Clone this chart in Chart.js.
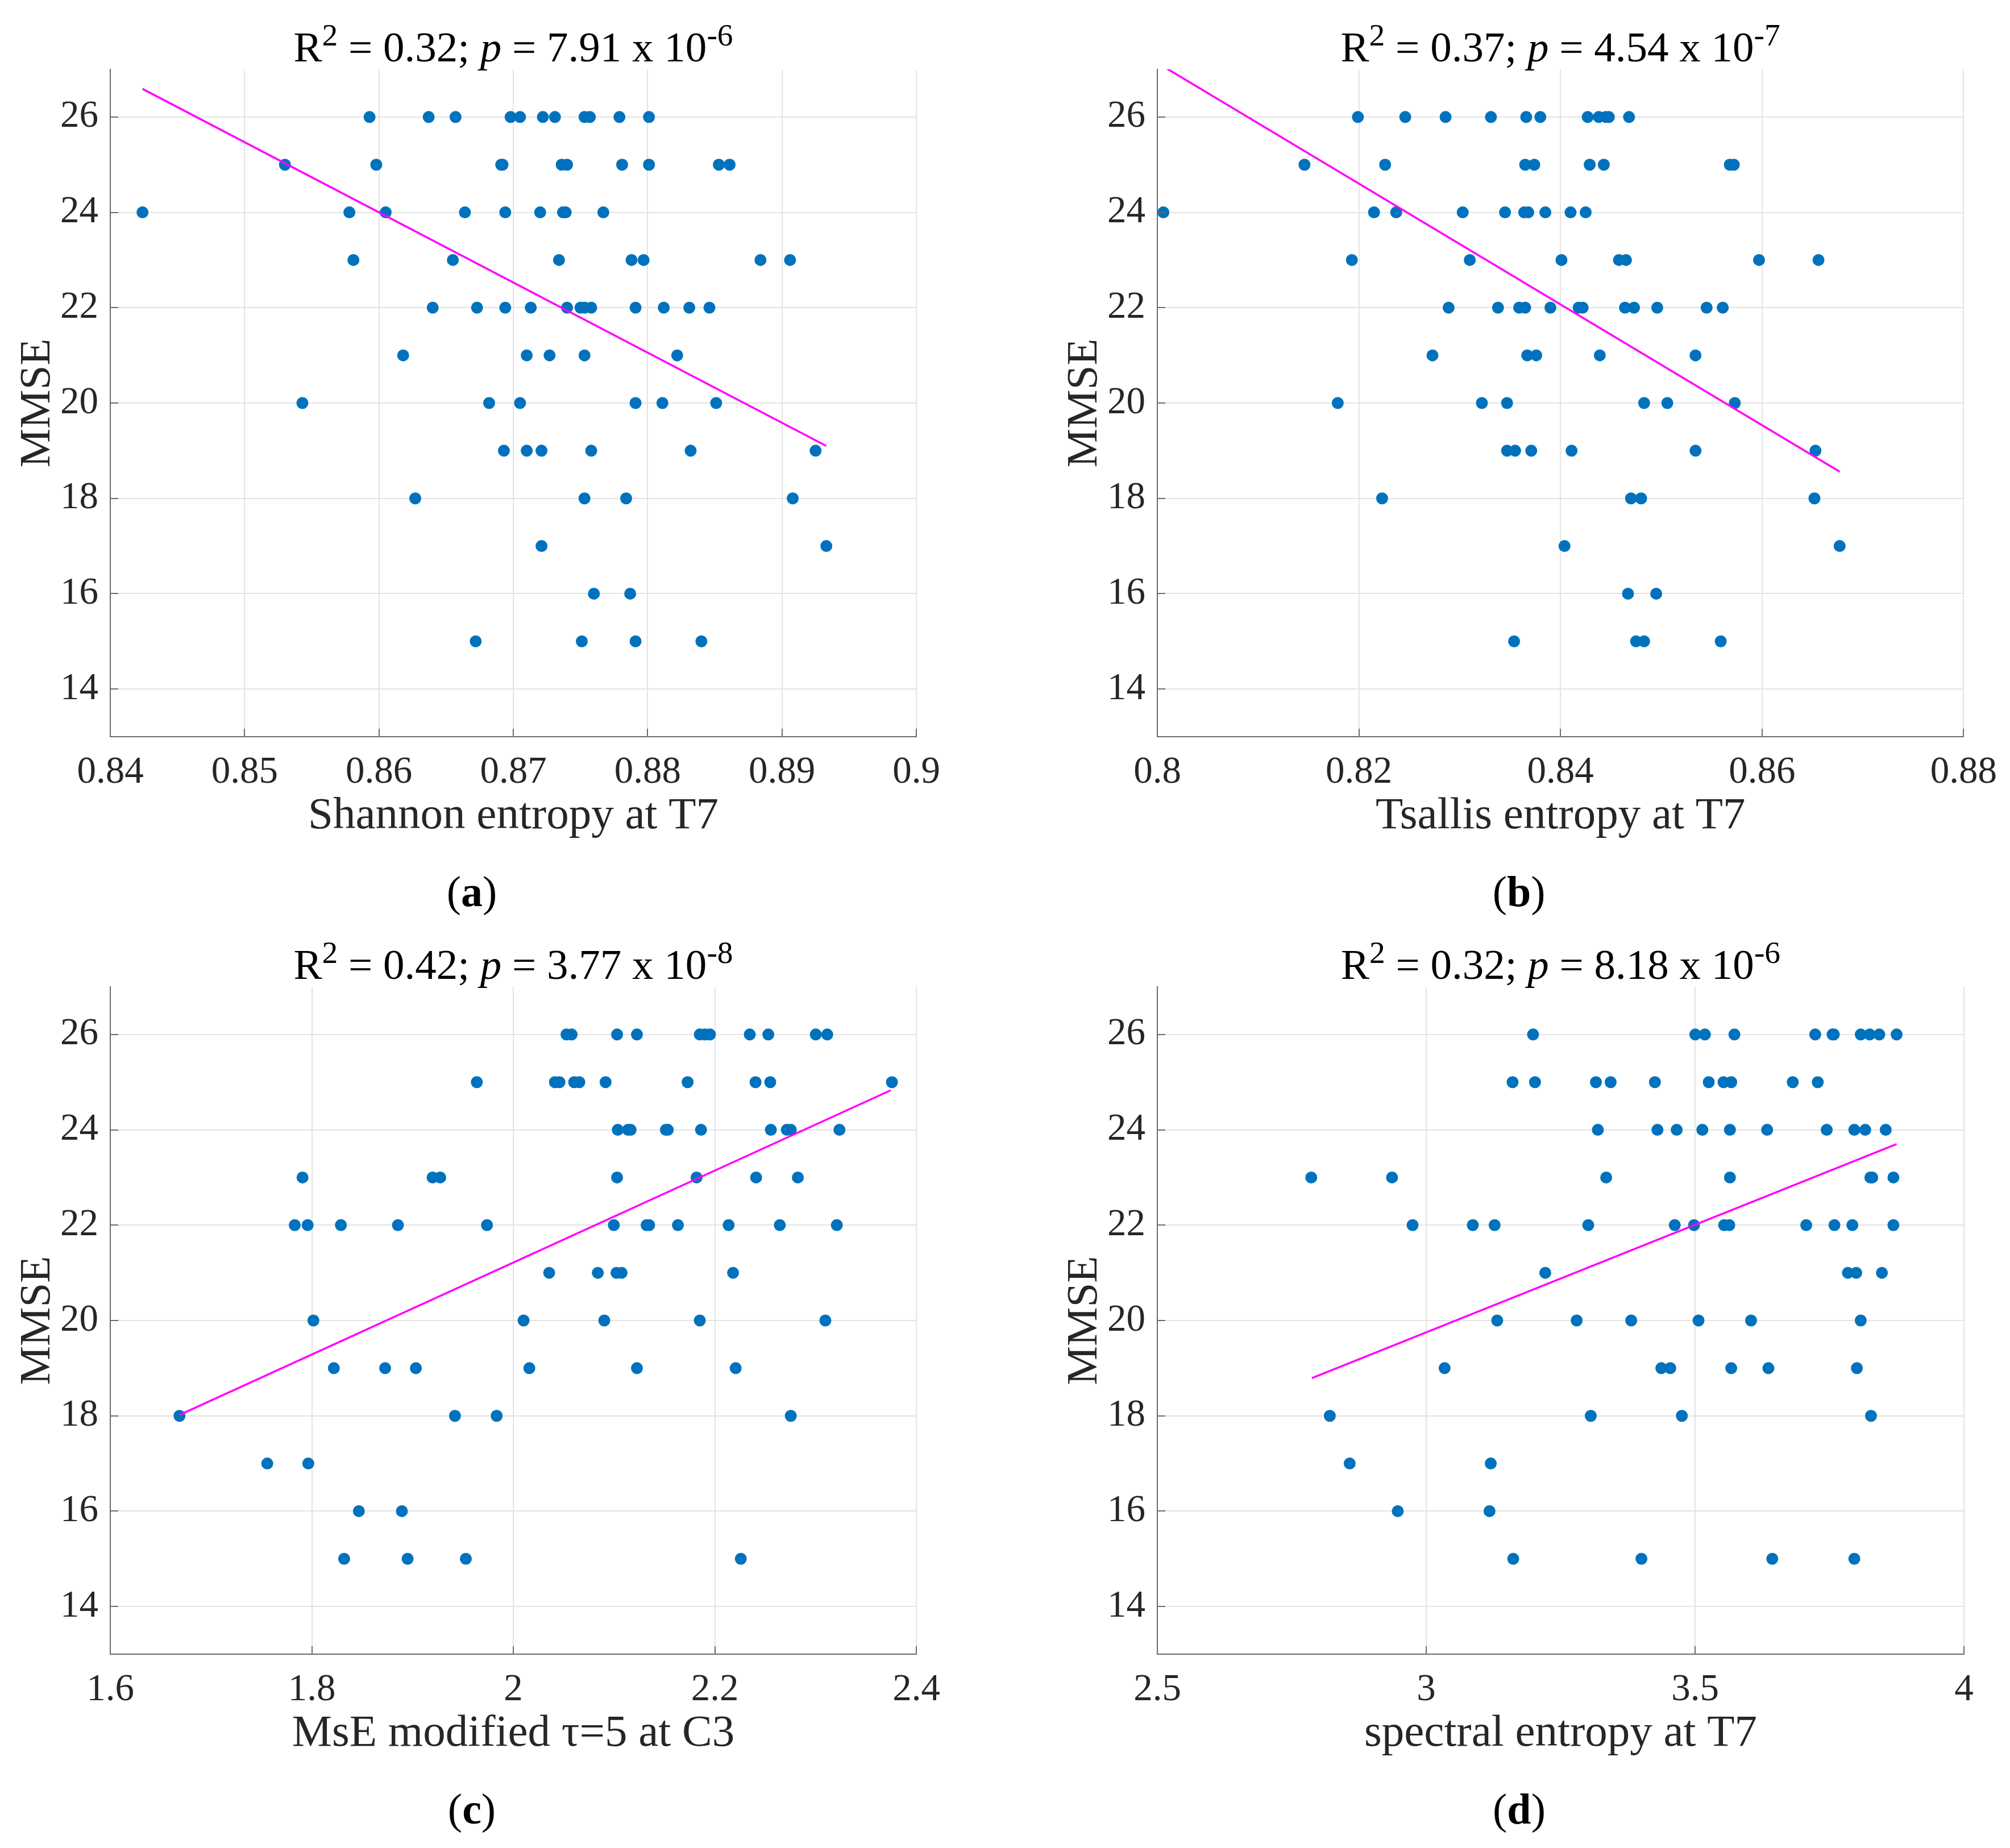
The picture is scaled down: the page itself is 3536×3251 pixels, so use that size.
<!DOCTYPE html>
<html>
<head>
<meta charset="utf-8">
<script src="https://cdn.jsdelivr.net/npm/chart.js@4.4.1/dist/chart.umd.min.js"></script>
<style>
html, body { margin: 0; padding: 0; background: #fff; }
#page { position: relative; width: 3536px; height: 3251px; overflow: hidden; font-family: "Liberation Serif", serif; color: #000; }
#page canvas { position: absolute; }
.ttl { position: absolute; width: 1400px; text-align: center; font-size: 75px; line-height: 1; white-space: nowrap; }
.ttl sup { font-size: 0.74em; vertical-align: 0.5em; line-height: 0; }
.lbl { position: absolute; width: 300px; text-align: center; font-size: 76px; line-height: 1; }
</style>
</head>
<body>
<div id="page"></div>
<script>
// MMSE score of each row of points (y value)
var mmseLevels = [26, 25, 24, 23, 22, 21, 20, 19, 18, 17, 16, 15];
var yTicks = [14, 16, 18, 20, 22, 24, 26];
var yRange = [13, 27];

// x values per MMSE level
var shannonT7 = [
  [0.8593, 0.8637, 0.8657, 0.8698, 0.8705, 0.8722, 0.8731, 0.8753, 0.8757, 0.8779, 0.8801],
  [0.8530, 0.8598, 0.8691, 0.8692, 0.8736, 0.8740, 0.8781, 0.8801, 0.8853, 0.8861],
  [0.8424, 0.8578, 0.8605, 0.8664, 0.8694, 0.8720, 0.8737, 0.8739, 0.8767],
  [0.8581, 0.8655, 0.8734, 0.8788, 0.8797, 0.8884, 0.8906],
  [0.8640, 0.8673, 0.8694, 0.8713, 0.8740, 0.8750, 0.8753, 0.8758, 0.8791, 0.8812, 0.8831, 0.8846],
  [0.8618, 0.8710, 0.8727, 0.8753, 0.8822],
  [0.8543, 0.8682, 0.8705, 0.8791, 0.8811, 0.8851],
  [0.8693, 0.8710, 0.8721, 0.8758, 0.8832, 0.8925],
  [0.8627, 0.8753, 0.8784, 0.8908],
  [0.8721, 0.8933],
  [0.8760, 0.8787],
  [0.8672, 0.8751, 0.8791, 0.8840]
];
var tsallisT7 = [
  [0.8199, 0.8246, 0.8286, 0.8331, 0.8366, 0.8380, 0.8427, 0.8438, 0.8445, 0.8448, 0.8468],
  [0.8146, 0.8226, 0.8365, 0.8374, 0.8429, 0.8443, 0.8568, 0.8572],
  [0.8006, 0.8215, 0.8237, 0.8303, 0.8345, 0.8364, 0.8368, 0.8385, 0.8410, 0.8425],
  [0.8193, 0.8310, 0.8401, 0.8458, 0.8465, 0.8597, 0.8656],
  [0.8289, 0.8338, 0.8359, 0.8365, 0.8390, 0.8418, 0.8422, 0.8464, 0.8473, 0.8496, 0.8545, 0.8561],
  [0.8273, 0.8367, 0.8376, 0.8439, 0.8534],
  [0.8179, 0.8322, 0.8347, 0.8483, 0.8506, 0.8573],
  [0.8347, 0.8355, 0.8371, 0.8411, 0.8534, 0.8653],
  [0.8223, 0.8470, 0.8480, 0.8652],
  [0.8404, 0.8677],
  [0.8467, 0.8495],
  [0.8354, 0.8475, 0.8483, 0.8559]
];
var mseTau5C3 = [
  [2.0528, 2.0579, 2.1030, 2.1227, 2.1851, 2.1901, 2.1952, 2.2347, 2.2531, 2.3002, 2.3116],
  [1.9638, 2.0413, 2.0458, 2.0604, 2.0655, 2.0916, 2.1730, 2.2404, 2.2550, 2.3758],
  [2.1037, 2.1138, 2.1164, 2.1514, 2.1533, 2.1863, 2.2556, 2.2715, 2.2754, 2.3237],
  [1.7908, 1.9199, 1.9275, 2.1030, 2.1819, 2.2410, 2.2824],
  [1.7831, 1.7959, 1.8289, 1.8855, 1.9739, 2.0998, 2.1323, 2.1348, 2.1634, 2.2137, 2.2645, 2.3211],
  [2.0356, 2.0839, 2.1024, 2.1075, 2.2181],
  [1.8016, 2.0102, 2.0903, 2.1851, 2.3097],
  [1.8219, 1.8728, 1.9033, 2.0159, 2.1227, 2.2207],
  [1.6687, 1.9421, 1.9835, 2.2754],
  [1.7558, 1.7965],
  [1.8467, 1.8894],
  [1.8321, 1.8951, 1.9529, 2.2258]
];
var spectralT7 = [
  [3.1987, 3.5004, 3.5183, 3.5731, 3.7234, 3.7556, 3.7580, 3.8080, 3.8247, 3.8426, 3.8748],
  [3.1606, 3.2023, 3.3156, 3.3430, 3.4253, 3.5254, 3.5529, 3.5672, 3.6816, 3.7281],
  [3.3192, 3.4300, 3.4658, 3.5135, 3.5648, 3.6340, 3.7448, 3.7961, 3.8164, 3.8545],
  [2.7862, 2.9364, 3.3347, 3.5648, 3.8259, 3.8295, 3.8688],
  [2.9746, 3.0866, 3.1272, 3.3013, 3.4622, 3.4980, 3.5540, 3.5636, 3.7067, 3.7591, 3.7925, 3.8688],
  [3.2214, 3.7842, 3.7997, 3.8474],
  [3.1320, 3.2798, 3.3812, 3.5064, 3.6041, 3.8080],
  [3.0342, 3.4372, 3.4539, 3.5672, 3.6363, 3.8009],
  [2.8207, 3.3060, 3.4754, 3.8271],
  [2.8577, 3.1200],
  [2.9471, 3.1177],
  [3.1618, 3.4002, 3.6435, 3.7961]
];

// regression line end points
var fitShannonX = [0.8424, 0.8933], fitShannonY = [26.59, 19.10];
var fitTsallisX = [0.8006, 0.8677], fitTsallisY = [27.06, 18.56];
var fitMseX = [1.6687, 2.3746], fitMseY = [18.02, 24.83];
var fitSpectralX = [2.7874, 3.8748], fitSpectralY = [18.79, 23.70];

var xTicksA = [0.84, 0.85, 0.86, 0.87, 0.88, 0.89, 0.9];
var xTicksB = [0.8, 0.82, 0.84, 0.86, 0.88];
var xTicksC = [1.6, 1.8, 2, 2.2, 2.4];
var xTicksD = [2.5, 3, 3.5, 4];

var xLabels = ['Shannon entropy at T7', 'Tsallis entropy at T7', 'MsE modified \u03C4=5 at C3', 'spectral entropy at T7'];
var rSquared = ['0.32', '0.37', '0.42', '0.32'];
var pMantissa = ['7.91', '4.54', '3.77', '8.18'];
var pExponent = ['-6', '-7', '-8', '-6'];
var panelNames = ['a', 'b', 'c', 'd'];

var panels = [
  { xs: shannonT7, fx: fitShannonX, fy: fitShannonY, ticks: xTicksA },
  { xs: tsallisT7, fx: fitTsallisX, fy: fitTsallisY, ticks: xTicksB },
  { xs: mseTau5C3, fx: fitMseX, fy: fitMseY, ticks: xTicksC },
  { xs: spectralT7, fx: fitSpectralX, fy: fitSpectralY, ticks: xTicksD }
];

var TXT = '#262626';
var FONT = '"Liberation Serif", serif';

// MATLAB style inward tick marks on left and bottom axes
var inwardTicks = {
  id: 'inwardTicks',
  afterDraw: function (chart) {
    var ctx = chart.ctx, a = chart.chartArea;
    var xs = chart.scales.x, ys = chart.scales.y;
    ctx.save();
    ctx.strokeStyle = '#6b6b6b';
    ctx.lineWidth = 2;
    ctx.beginPath();
    ys.ticks.forEach(function (t) {
      var py = Math.round(ys.getPixelForValue(t.value));
      ctx.moveTo(a.left, py); ctx.lineTo(a.left + 14, py);
    });
    xs.ticks.forEach(function (t) {
      var px = Math.round(xs.getPixelForValue(t.value));
      ctx.moveTo(px, a.bottom); ctx.lineTo(px, a.bottom - 14);
    });
    ctx.stroke();
    ctx.restore();
  }
};

var page = document.getElementById('page');

function makePanel(i) {
  var col = i % 2, row = Math.floor(i / 2);
  var left = col * 1768, top = row * 1614;
  var yAxisW = col === 0 ? 194 : 268;
  var rightPad = col === 0 ? 156 : 81;
  var yTitlePad = col === 0 ? 21 : 95;
  var W = 1768, H = 1484;
  var p = panels[i];

  var cv = document.createElement('canvas');
  cv.width = W; cv.height = H;
  cv.style.left = left + 'px'; cv.style.top = top + 'px';
  cv.style.width = W + 'px'; cv.style.height = H + 'px';
  page.appendChild(cv);

  var pts = [];
  mmseLevels.forEach(function (lvl, k) {
    p.xs[k].forEach(function (x) { pts.push({ x: x, y: lvl }); });
  });
  var fit = p.fx.map(function (x, k) { return { x: x, y: p.fy[k] }; });

  var ch = new Chart(cv, {
    type: 'scatter',
    data: {
      datasets: [
        { type: 'line', data: fit, borderColor: '#FF00FF', borderWidth: 3.5, pointRadius: 0, showLine: true, fill: false, order: 0 },
        { data: pts, backgroundColor: '#0072BD', borderWidth: 0, pointRadius: 10.5, order: 1 }
      ]
    },
    options: {
      responsive: false,
      devicePixelRatio: 1,
      animation: false,
      events: [],
      layout: { padding: { top: 122, right: rightPad, left: 0, bottom: 0 } },
      plugins: { legend: { display: false }, tooltip: { enabled: false } },
      scales: {
        x: {
          type: 'linear',
          min: p.ticks[0], max: p.ticks[p.ticks.length - 1],
          afterBuildTicks: function (s) { s.ticks = p.ticks.map(function (v) { return { value: v }; }); },
          afterFit: function (s) { s.height = 188; },
          grid: { color: '#e3e3e3', lineWidth: 2, drawTicks: false },
          border: { display: true, color: '#6b6b6b', width: 2 },
          ticks: { padding: 23, color: TXT, font: { family: FONT, size: 67 }, maxRotation: 0, callback: function (v) { return String(v); } },
          title: { display: true, text: xLabels[i], color: TXT, font: { family: FONT, size: 79 }, padding: { top: 0, bottom: 0 } }
        },
        y: {
          type: 'linear',
          min: yRange[0], max: yRange[1],
          afterBuildTicks: function (s) { s.ticks = yTicks.map(function (v) { return { value: v }; }); },
          afterFit: function (s) { s.width = yAxisW; },
          grid: { color: '#e3e3e3', lineWidth: 2, drawTicks: false },
          border: { display: true, color: '#6b6b6b', width: 2 },
          ticks: { padding: 21, color: TXT, font: { family: FONT, size: 67 }, callback: function (v) { return String(v); } },
          title: { display: true, text: 'MMSE', color: TXT, font: { family: FONT, size: 77 }, padding: { top: yTitlePad, bottom: 0 } }
        }
      }
    },
    plugins: [inwardTicks]
  });

  var area = ch.chartArea;
  var cx = left + (area.left + area.right) / 2;

  var t = document.createElement('div');
  t.className = 'ttl';
  t.style.left = (cx - 700) + 'px';
  t.style.top = (top + 45) + 'px';
  t.innerHTML = 'R<sup>2</sup> = ' + rSquared[i] + '; <i>p</i> = ' + pMantissa[i] + ' x 10<sup>' + pExponent[i] + '</sup>';
  page.appendChild(t);

  var l = document.createElement('div');
  l.className = 'lbl';
  l.style.left = (cx - 73 - 150) + 'px';
  l.style.top = (top + 1530) + 'px';
  l.innerHTML = '(<b>' + panelNames[i] + '</b>)';
  page.appendChild(l);
}

for (var i = 0; i < 4; i++) makePanel(i);
</script>
</body>
</html>
